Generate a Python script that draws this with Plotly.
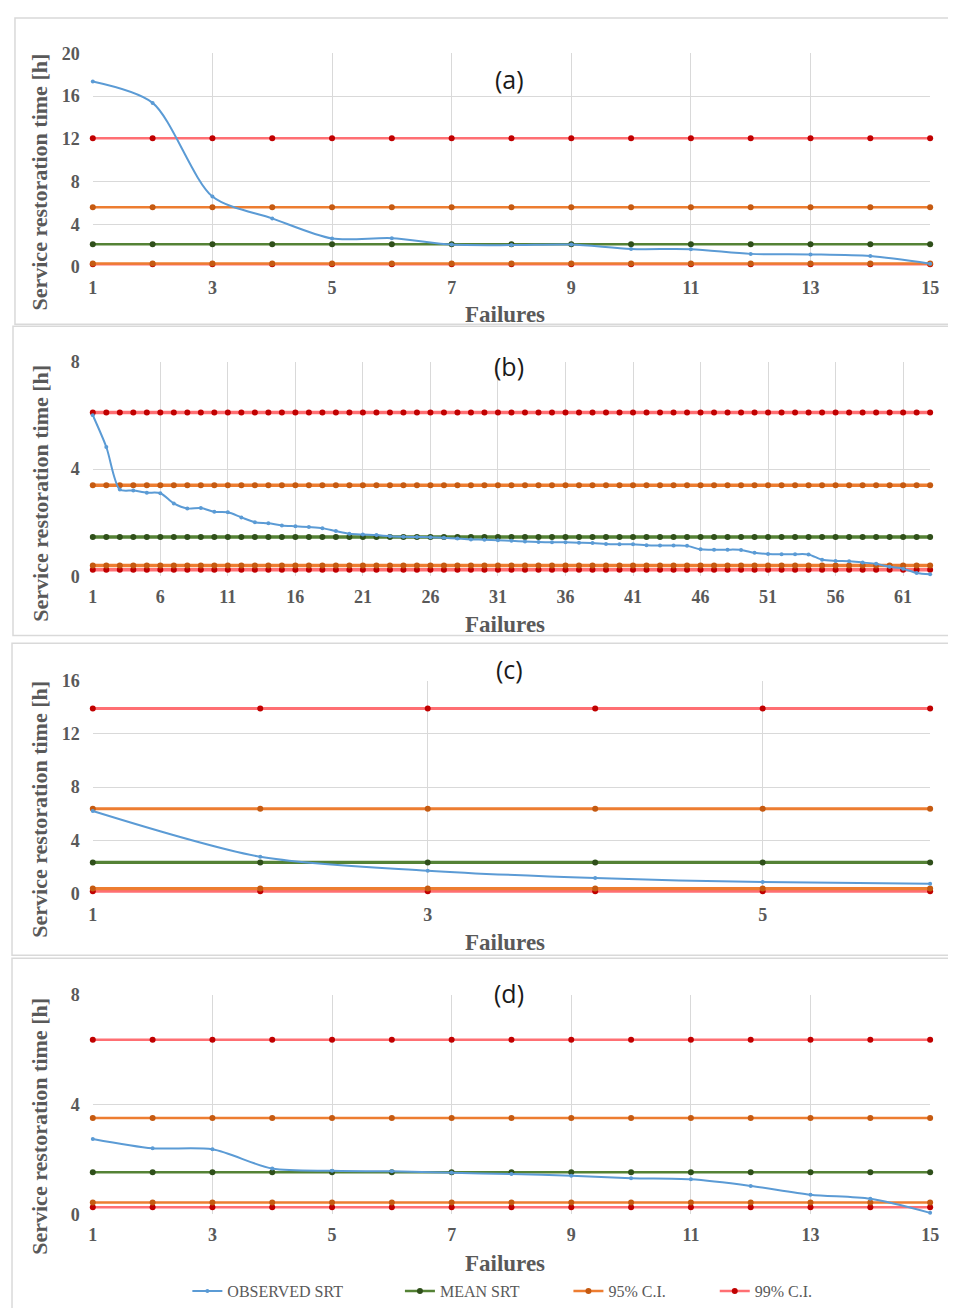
import plotly.graph_objects as go

# page is rendered with the browser's default 8px body margin -> figure is 16px smaller
PAGE_W, PAGE_H = 956, 1316
BODY_MARGIN = 8
FW, FH = PAGE_W - 2 * BODY_MARGIN, PAGE_H - 2 * BODY_MARGIN

# ---------------- data ----------------
# panel (a)
a_x = list(range(1, 16))
a_obs = [17.36, 15.36, 6.6, 4.55, 2.67, 2.7, 2.1, 2.05, 2.1, 1.69, 1.67, 1.23, 1.18, 1.02, 0.31]
a_mean = 2.12
a_ci95 = (0.33, 5.6)
a_ci99 = (0.25, 12.05)

# panel (b)
b_x = list(range(1, 64))
b_obs = [6.0, 4.82, 3.24, 3.2, 3.12, 3.1, 2.72, 2.53, 2.55, 2.41, 2.39, 2.2, 2.02, 1.98, 1.9,
         1.87, 1.84, 1.8, 1.69, 1.59, 1.56, 1.54, 1.5, 1.48, 1.47, 1.46, 1.44, 1.41, 1.38, 1.37,
         1.35, 1.33, 1.3, 1.28, 1.27, 1.27, 1.26, 1.25, 1.21, 1.2, 1.2, 1.16, 1.15, 1.15, 1.14,
         1.01, 1.0, 1.0, 0.99, 0.88, 0.84, 0.83, 0.83, 0.82, 0.62, 0.58, 0.57, 0.52, 0.47,
         0.36, 0.29, 0.13, 0.08]
b_mean = 1.47
b_ci95 = (0.41, 3.4)
b_ci99 = (0.25, 6.1)

# panel (c)
c_x = [1, 2, 3, 4, 5, 6]
c_obs = [6.2, 2.76, 1.72, 1.16, 0.86, 0.74]
c_mean = 2.34
c_ci95 = (0.37, 6.37)
c_ci99 = (0.18, 13.9)

# panel (d)
d_x = list(range(1, 16))
d_obs = [2.75, 2.41, 2.37, 1.67, 1.59, 1.57, 1.52, 1.47, 1.41, 1.32, 1.28, 1.04, 0.72, 0.57, 0.06]
d_mean = 1.54
d_ci95 = (0.44, 3.51)
d_ci99 = (0.26, 6.36)

series_names = ["OBSERVED SRT", "MEAN SRT", "95% C.I.", "99% C.I."]

panels = [
    dict(x=a_x, obs=a_obs, mean=a_mean, ci95=a_ci95, ci99=a_ci99, label="(a)",
         yrange=[0, 20], xticks=[1, 3, 5, 7, 9, 11, 13, 15], xrange=[1, 15], lw=2.5),
    dict(x=b_x, obs=b_obs, mean=b_mean, ci95=b_ci95, ci99=b_ci99, label="(b)",
         yrange=[0, 8], xticks=[1, 6, 11, 16, 21, 26, 31, 36, 41, 46, 51, 56, 61], xrange=[1, 63], lw=3.5),
    dict(x=c_x, obs=c_obs, mean=c_mean, ci95=c_ci95, ci99=c_ci99, label="(c)",
         yrange=[0, 16], xticks=[1, 3, 5], xrange=[1, 6], lw=3.2),
    dict(x=d_x, obs=d_obs, mean=d_mean, ci95=d_ci95, ci99=d_ci99, label="(d)",
         yrange=[0, 8], xticks=[1, 3, 5, 7, 9, 11, 13, 15], xrange=[1, 15], lw=2.5),
]

# ---------------- layout geometry (page pixels) ----------------
plot_left, plot_right = 89, 939
plot_tb = [(44, 261.7), (358, 577), (683, 900), (1003, 1227)]
ytitle_center = [175, 492, 814, 1137]
xtitle_y = [310, 626, 950, 1277]
label_y = [70, 363, 671, 1001]
boxes = [(10, 8, 320), (8, 322, 637), (7, 645, 963), (7, 966, 1330)]
legend_pad = [13, 11, 11, 0]   # non-breaking-space padding after each legend label

def px(v):
    return (v - BODY_MARGIN) / FW

def py(v):
    return 1 - (v - BODY_MARGIN) / FH

C_OBS = "#5b9bd5"
C_MEAN_L, C_MEAN_M = "#548235", "#2f4f1a"
C_95_L, C_95_M = "#ed7d31", "#c55a11"
C_99_L, C_99_M = "#ff6f73", "#c00000"
GREY = "#595959"
SERIF = "Liberation Serif, Times New Roman, serif"

legend_label = {n: n + "\u00a0" * pad for n, pad in zip(series_names, legend_pad)}

fig = go.Figure()
annotations = []
shapes = []

for i, p in enumerate(panels):
    k = "" if i == 0 else str(i + 1)
    xa, ya = "x" + k, "y" + k
    n = len(p["x"])
    first = i == 0
    lw = p["lw"]

    def add(y, name, lc, mc, lw, ms, show, spline=False, rank=1):
        fig.add_trace(go.Scatter(
            x=p["x"], y=y, mode="lines+markers", name=legend_label[name],
            line=dict(color=lc, width=lw, shape="spline" if spline else "linear", smoothing=0.8),
            marker=dict(color=mc, size=ms),
            xaxis=xa, yaxis=ya, showlegend=show, legendgroup=name,
            cliponaxis=False, legendrank=rank,
        ))

    add([p["ci99"][0]] * n, "99% C.I.", C_99_L, C_99_M, lw, 6, False, rank=4)
    add([p["ci95"][0]] * n, "95% C.I.", C_95_L, C_95_M, lw, 6, False, rank=3)
    add([p["ci99"][1]] * n, "99% C.I.", C_99_L, C_99_M, lw, 6, first, rank=4)
    add([p["ci95"][1]] * n, "95% C.I.", C_95_L, C_95_M, lw, 6, first, rank=3)
    add([p["mean"]] * n, "MEAN SRT", C_MEAN_L, C_MEAN_M, lw, 6, first, rank=2)
    add(p["obs"], "OBSERVED SRT", C_OBS, C_OBS, 2, 4, first, spline=True, rank=1)

    top, bot = plot_tb[i]
    fig.layout["xaxis" + k] = dict(
        domain=[px(plot_left), px(plot_right)], anchor=ya, range=p["xrange"],
        tickvals=p["xticks"], showgrid=True, gridcolor="#d9d9d9", gridwidth=1,
        zeroline=False, showline=False, ticks="", ticklabelstandoff=8,
        tickfont=dict(family=SERIF, size=18, color=GREY, weight="bold"), fixedrange=True,
    )
    fig.layout["yaxis" + k] = dict(
        domain=[py(bot), py(top)], anchor=xa, range=p["yrange"], dtick=4, tick0=0,
        showgrid=True, gridcolor="#d9d9d9", gridwidth=1, zeroline=False, showline=False,
        ticks="", ticklabelstandoff=12,
        tickfont=dict(family=SERIF, size=18, color=GREY, weight="bold"), fixedrange=True,
    )
    annotations.append(dict(
        text="<b>Service restoration time [h]</b>", textangle=-90, x=px(35), y=py(ytitle_center[i]),
        xref="paper", yref="paper", showarrow=False, xanchor="center", yanchor="middle",
        font=dict(family=SERIF, size=22, color=GREY)))
    annotations.append(dict(
        text="<b>Failures</b>", x=px(507), y=py(xtitle_y[i]), xref="paper", yref="paper",
        showarrow=False, xanchor="center", yanchor="middle",
        font=dict(family=SERIF, size=23, color=GREY)))
    annotations.append(dict(
        text=p["label"], x=px(512), y=py(label_y[i]), xref="paper", yref="paper",
        showarrow=False, xanchor="center", yanchor="middle",
        font=dict(family="Open Sans, Lato, sans-serif", size=25, color="#1a1a1a")))
    bx, by0, by1 = boxes[i]
    shapes.append(dict(type="rect", xref="paper", yref="paper", x0=px(bx), x1=px(PAGE_W + 10),
                       y0=py(by1), y1=py(by0), line=dict(color="#d9d9d9", width=1.5),
                       layer="below"))

fig.update_layout(
    width=FW, height=FH, margin=dict(l=0, r=0, t=0, b=0),
    paper_bgcolor="white", plot_bgcolor="white",
    annotations=annotations, shapes=shapes,
    legend=dict(orientation="h", x=px(185), xanchor="left", y=py(1305), yanchor="middle",
                font=dict(family=SERIF, size=16, color=GREY), itemwidth=30,
                traceorder="normal", bgcolor="rgba(0,0,0,0)"),
)

fig.write_html("out.html", config={"displayModeBar": False})
